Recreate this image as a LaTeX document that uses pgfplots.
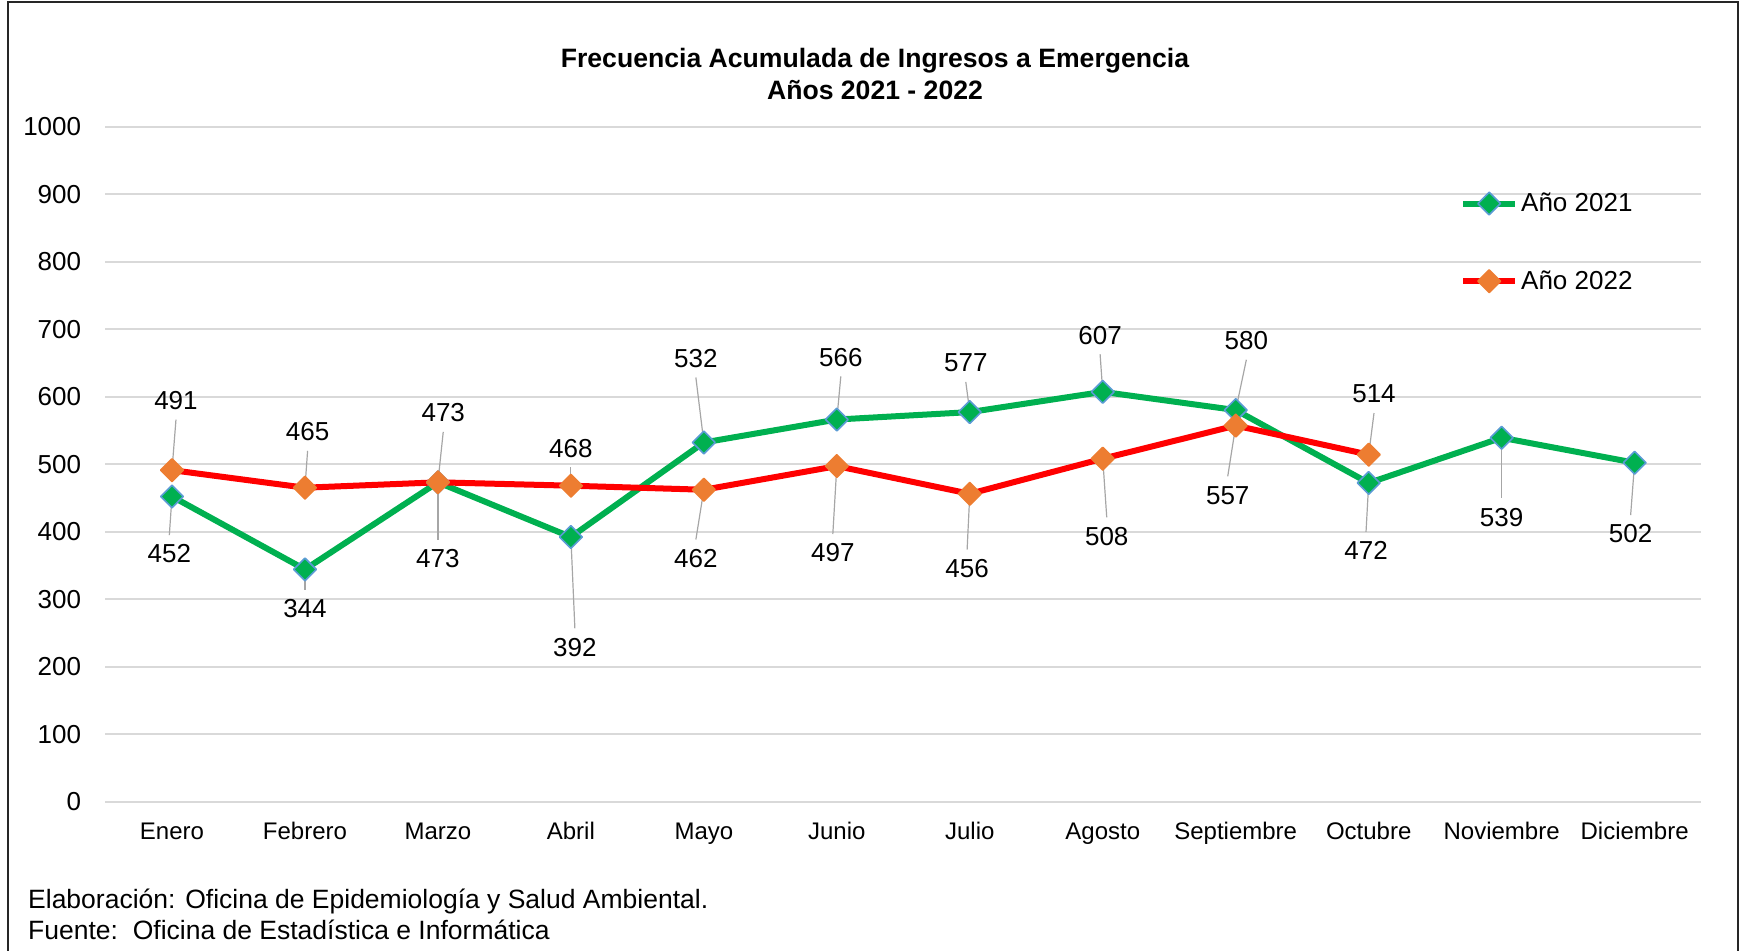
\documentclass[border=0pt]{standalone}
\usepackage{pgfplots}
\pgfplotsset{compat=1.18}
\usepackage{pgfplotstable}
\usepackage{fontspec}
\setmainfont{Liberation Sans}
\definecolor{cgreen}{HTML}{00B050}
\definecolor{cred}{HTML}{FF0000}
\definecolor{corange}{HTML}{ED7D31}
\definecolor{cblue}{HTML}{5B9BD5}
\definecolor{cgrid}{HTML}{D9D9D9}
\definecolor{clead}{HTML}{A6A6A6}

% 2021: x, value, leader (u,v), label position (lx,ly)
\pgfplotstableread{
x y u v lx ly
0 452 -0.02 -57.2 -0.02 366.8
1 344 0 -29.8 1 286.2
2 473 0 -84.8 2 360.2
3 392 0.03 -135.4 3.03 228.6
4 532 -0.06 96.3 3.94 656.3
5 566 0.03 63.9 5.03 657.9
6 577 -0.03 44.7 5.97 649.7
7 607 -0.02 55.8 6.98 690.8
8 580 0.08 74.6 8.08 682.6
9 472 -0.02 -72.3 8.98 371.7
10 539 0 -89.9 10 421.1
11 502 -0.03 -77.6 10.97 396.4
}\dataA

% 2022
\pgfplotstableread{
x y u v lx ly
0 491 0.03 74.8 0.03 593.8
1 465 0.02 54.7 1.02 547.7
2 473 0.04 74.7 2.04 575.7
3 468 0 27 3 523.0
4 462 -0.06 -73.8 3.94 360.2
5 497 -0.03 -100.6 4.97 368.4
6 456 -0.02 -82.6 5.98 345.4
7 508 0.03 -86.9 7.03 393.1
8 557 -0.06 -75.1 7.94 453.9
9 514 0.04 61.6 9.04 603.6
}\dataB

\begin{document}
\begin{tikzpicture}
\path[use as bounding box] (0,0) rectangle (870.5pt,475.5pt);
\draw[line width=1pt, black!85] (4.2pt,0) -- (4.2pt,474.5pt) -- (869pt,474.5pt) -- (869pt,0);
\node[anchor=base, font=\bfseries\fontsize{13.3}{15}\selectfont] at (437.5pt,441.5pt) {Frecuencia Acumulada de Ingresos a Emergencia};
\node[anchor=base, font=\bfseries\fontsize{13.3}{15}\selectfont] at (437.5pt,425.9pt) {Años 2021 - 2022};
\node[anchor=base west, inner sep=0pt, font=\fontsize{13.25}{15}\selectfont] at (13.9pt,21.4pt) {Elaboración: Oficina de Epidemiología y Salud Ambiental.};
\node[anchor=base west, inner sep=0pt, font=\fontsize{13.25}{15}\selectfont] at (13.9pt,5.9pt) {Fuente:\ \ Oficina de Estadística e Informática};

\begin{axis}[
  at={(52.75pt,74.7pt)}, anchor=south west,
  scale only axis, width=797.8pt, height=337.5pt,
  xmin=-0.5, xmax=11.5, ymin=0, ymax=1000,
  ytick={0,100,...,1000},
  xtick={0,...,11},
  xticklabels={Enero,Febrero,Marzo,Abril,Mayo,Junio,Julio,Agosto,Septiembre,Octubre,Noviembre,Diciembre},
  axis line style={draw=none},
  tick style={draw=none},
  ymajorgrids, grid style={cgrid, line width=1pt},
  /pgf/number format/assume math mode=true,
  /pgf/number format/1000 sep={},
  yticklabel style={font=\fontsize{13}{15}\selectfont, anchor=east, inner sep=0pt, xshift=-12pt},
  xticklabel style={font=\fontsize{12}{14}\selectfont, anchor=base, inner sep=0pt, yshift=-18.8pt},
  clip=false,
  legend style={at={(0.845,0.913)}, anchor=north west, draw=none, fill=none,
     font=\fontsize{13}{15}\selectfont, row sep=25pt, nodes={inner sep=1.5pt}},
  legend cell align=left,
  legend image code/.code={\draw[mark repeat=2,mark phase=2,#1] plot coordinates {(0pt,0pt) (13pt,0pt) (26pt,0pt)};},
]
\addplot[cgreen, line width=3pt, line join=round, mark=square*, mark size=4pt,
  mark options={rotate=45, fill=cgreen, draw=cblue, line width=0.8pt}] table[x=x,y=y]{\dataA};
\addlegendentry{Año 2021}
\addplot[cred, line width=3pt, line join=round, mark=square*, mark size=4pt,
  mark options={rotate=45, fill=corange, draw=corange, line width=0.8pt}] table[x=x,y=y]{\dataB};
\addlegendentry{Año 2022}

% leader lines
\addplot[forget plot, clead, line width=0.6pt, no markers, quiver={u=\thisrow{u}, v=\thisrow{v}}] table[x=x,y=y]{\dataA};
\addplot[forget plot, clead, line width=0.6pt, no markers, quiver={u=\thisrow{u}, v=\thisrow{v}}] table[x=x,y=y]{\dataB};

% data labels
\addplot[forget plot, draw=none, no markers, nodes near coords, point meta=explicit symbolic,
  nodes near coords style={anchor=center, inner sep=0pt, font=\fontsize{13}{15}\selectfont, text=black}]
  table[x=lx,y=ly,meta=y]{\dataA};
\addplot[forget plot, draw=none, no markers, nodes near coords, point meta=explicit symbolic,
  nodes near coords style={anchor=center, inner sep=0pt, font=\fontsize{13}{15}\selectfont, text=black}]
  table[x=lx,y=ly,meta=y]{\dataB};
\end{axis}
\end{tikzpicture}
\end{document}
